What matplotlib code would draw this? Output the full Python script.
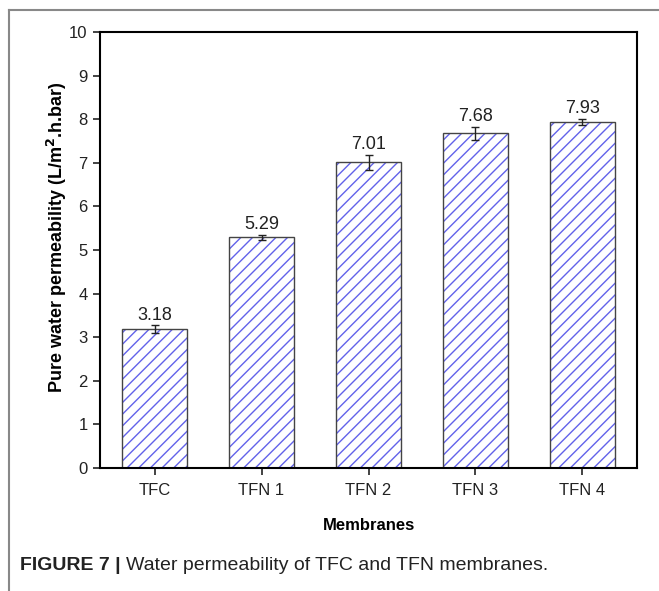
import numpy as np
import matplotlib.pyplot as plt
from matplotlib.lines import Line2D

membranes = ['TFC', 'TFN 1', 'TFN 2', 'TFN 3', 'TFN 4']
permeability = [3.18, 5.29, 7.01, 7.68, 7.93]
errors = [0.09, 0.06, 0.17, 0.15, 0.07]
yticks = [0, 1, 2, 3, 4, 5, 6, 7, 8, 9, 10]

# render at 70 dpi so the hatch spacing matches the original; k rescales sizes
DPI = 70
k = 100 / DPI

plt.rcParams['font.family'] = ['Liberation Sans', 'DejaVu Sans']
plt.rcParams['hatch.linewidth'] = 1.0 * k

W, H = 659, 591
fig = plt.figure(figsize=(W / DPI, H / DPI), dpi=DPI)
ax = fig.add_axes([100 / W, 1 - 468 / H, 537 / W, 436 / H])

x = np.arange(len(membranes))
# hatch layer in blue, then grey outline on top
ax.bar(x, permeability, width=0.6, color='white', edgecolor='#6262ea',
       linewidth=0, hatch='//')
ax.bar(x, permeability, width=0.6, fill=False, edgecolor='#444444',
       linewidth=1.0 * k)
ax.errorbar(x, permeability, yerr=errors, fmt='none', ecolor='#222222',
            elinewidth=1.0 * k, capsize=3 * k, capthick=1.0 * k)
for xi, v, e in zip(x, permeability, errors):
    ax.text(xi, v + e + 0.04, f'{v:.2f}', ha='center', va='bottom',
            fontsize=13 * k, color='#222222')

ax.set_xlim(-0.51, 4.51)
ax.set_ylim(0, 10)
ax.set_yticks(yticks)
ax.set_xticks(x)
ax.set_xticklabels(membranes)
ax.tick_params(direction='out', length=5 * k, width=1.2 * k, labelsize=12 * k,
               colors='#222222')
ax.tick_params(axis='x', pad=6 * k)
ax.tick_params(axis='y', pad=4 * k)
for s in ax.spines.values():
    s.set_linewidth(1.5 * k)

ax.set_xlabel('Membranes', fontsize=12 * k, fontweight='bold', labelpad=14 * k)
ax.set_ylabel(r'Pure water permeability (L/m$^{\mathbf{2}}$.h.bar)',
              fontsize=13 * k, fontweight='bold')
ax.yaxis.set_label_coords(-0.058, 0.53)

# outer frame of the figure panel
fig.add_artist(Line2D([9 / W, 9 / W], [0, 1 - 10 / H], color='#888888', lw=1.5 * k))
fig.add_artist(Line2D([9 / W, 1], [1 - 10 / H, 1 - 10 / H], color='#888888', lw=1.5 * k))

cap1 = fig.text(20 / W, 1 - 566 / H, 'FIGURE 7 |', fontsize=14 * k,
                fontweight='bold', va='center', ha='left', color='#222222')
fig.canvas.draw()
bb = cap1.get_window_extent()
fig.text((bb.x1 + 5) / W, 1 - 566 / H,
         'Water permeability of TFC and TFN membranes.',
         fontsize=14 * k, va='center', ha='left', color='#222222')

fig.savefig('out.png', dpi=DPI)
